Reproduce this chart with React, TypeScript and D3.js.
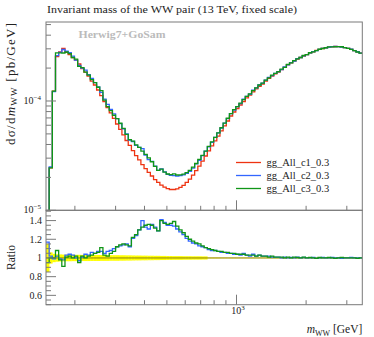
import React from 'react'
import * as d3 from 'd3'

const TITLE = 'Invariant mass of the WW pair (13 TeV, fixed scale)'
const GENERATOR = 'Herwig7+GoSam'
const SERIES = ['gg_All_c1_0.3', 'gg_All_c2_0.3', 'gg_All_c3_0.3']
const COLORS = ['#ee3311', '#3366ff', '#109618']

// binning of the m_WW histogram (log bins)
const M_LO = 150
const M_HI = 3500
const N_BINS = 100

// reference curve (c1), dsigma/dm in pb/GeV
const RED = [
  7e-6, 2.44e-5, 1.23e-4, 2.55e-4, 2.81e-4, 3.02e-4, 2.78e-4, 2.66e-4, 2.5e-4, 2.37e-4,
  2.18e-4, 1.98e-4, 1.84e-4, 1.69e-4, 1.52e-4, 1.4e-4, 1.26e-4, 1.12e-4, 9.89e-5, 8.72e-5,
  7.77e-5, 6.92e-5, 6.16e-5, 5.49e-5, 4.89e-5, 4.35e-5, 3.92e-5, 3.52e-5, 3.17e-5, 2.89e-5,
  2.62e-5, 2.41e-5, 2.22e-5, 2.06e-5, 1.91e-5, 1.8e-5, 1.7e-5, 1.63e-5, 1.58e-5, 1.55e-5,
  1.55e-5, 1.57e-5, 1.62e-5, 1.69e-5, 1.8e-5, 1.93e-5, 2.1e-5, 2.31e-5, 2.54e-5, 2.82e-5,
  3.14e-5, 3.49e-5, 3.88e-5, 4.31e-5, 4.78e-5, 5.32e-5, 5.91e-5, 6.56e-5, 7.29e-5, 7.93e-5,
  8.54e-5, 9.19e-5, 9.89e-5, 1.07e-4, 1.13e-4, 1.21e-4, 1.29e-4, 1.36e-4, 1.43e-4, 1.52e-4,
  1.61e-4, 1.69e-4, 1.77e-4, 1.84e-4, 1.94e-4, 2.03e-4, 2.14e-4, 2.23e-4, 2.32e-4, 2.42e-4,
  2.5e-4, 2.58e-4, 2.66e-4, 2.75e-4, 2.81e-4, 2.9e-4, 2.96e-4, 3.02e-4, 3.07e-4, 3.11e-4,
  3.13e-4, 3.15e-4, 3.14e-4, 3.12e-4, 3.08e-4, 3.03e-4, 2.96e-4, 2.89e-4, 2.82e-4, 2.74e-4,
]

// ratios to the reference
const BLUE_RATIO = [
  1.17, 1.02, 0.99, 1.02, 0.99, 0.98, 1.03, 1.04, 1.03, 1.0,
  0.97, 1.01, 1.04, 1.03, 1.06, 1.05, 1.07, 1.07, 1.05, 1.07,
  1.08, 1.1, 1.12, 1.13, 1.14, 1.15, 1.12, 1.21, 1.24, 1.3,
  1.4, 1.33, 1.31, 1.36, 1.33, 1.29, 1.41, 1.38, 1.35, 1.35,
  1.34, 1.31, 1.28, 1.25, 1.21, 1.18, 1.16, 1.15, 1.13, 1.12,
  1.11, 1.09, 1.08, 1.08, 1.07, 1.06, 1.06, 1.05, 1.05, 1.04,
  1.04, 1.03, 1.05, 1.03, 1.02, 1.04, 1.02, 1.03, 1.02, 1.02,
  1.02, 1.01, 1.01, 1.01, 1.0, 1.01, 1.0, 1.005, 1.0, 1.01,
  1.0, 1.005, 1.0, 1.0, 1.005, 0.995, 1.0, 1.005, 1.0, 1.0,
  1.005, 1.0, 1.0, 0.995, 1.0, 1.0, 1.005, 1.0, 1.0, 1.0,
]

const GREEN_RATIO = [
  0.95, 1.0, 1.0, 1.08, 0.98, 0.91, 1.01, 1.02, 1.0, 1.02,
  0.95, 1.02, 1.0, 1.02, 1.03, 1.05, 1.06, 1.11, 1.03, 1.02,
  1.05, 1.07, 1.12, 1.14, 1.15, 1.14, 1.13, 1.22, 1.25, 1.3,
  1.33, 1.35, 1.36, 1.35, 1.32, 1.29, 1.4, 1.37, 1.36, 1.37,
  1.39, 1.34, 1.3, 1.27, 1.23, 1.2, 1.18, 1.16, 1.15, 1.13,
  1.11, 1.1, 1.09, 1.08, 1.07, 1.07, 1.06, 1.06, 1.05, 1.05,
  1.04, 1.04, 1.04, 1.03, 1.03, 1.03, 1.02, 1.03, 1.02, 1.02,
  1.01, 1.02, 1.01, 1.01, 1.01, 1.0, 1.01, 1.0, 1.01, 1.005,
  1.0, 1.01, 1.0, 1.005, 1.0, 0.995, 1.005, 1.0, 1.0, 1.005,
  1.0, 0.995, 1.0, 1.005, 1.0, 1.0, 1.0, 1.0, 0.995, 1.0,
]

// relative stat. uncertainty of the reference (yellow band)
const RED_ERR = [
  0.15, 0.06, 0.045, 0.04, 0.038, 0.036, 0.035, 0.035, 0.034, 0.034,
  0.034, 0.033, 0.033, 0.033, 0.032, 0.032, 0.032, 0.031, 0.031, 0.031,
  0.03, 0.03, 0.03, 0.029, 0.029, 0.028, 0.028, 0.027, 0.026, 0.026,
  0.025, 0.025, 0.024, 0.024, 0.023, 0.023, 0.022, 0.022, 0.021, 0.021,
  0.02, 0.02, 0.02, 0.019, 0.019, 0.019, 0.018, 0.018, 0.018, 0.017,
  0.017, 0.004, 0.004, 0.004, 0.004, 0.003, 0.003, 0.003, 0.003, 0.003,
  0.003, 0.003, 0.003, 0.003, 0.003, 0.003, 0.003, 0.003, 0.003, 0.003,
  0.003, 0.003, 0.003, 0.003, 0.003, 0.003, 0.003, 0.003, 0.003, 0.003,
  0.003, 0.003, 0.003, 0.003, 0.003, 0.003, 0.003, 0.003, 0.003, 0.003,
  0.003, 0.003, 0.003, 0.003, 0.003, 0.003, 0.003, 0.003, 0.003, 0.003,
]

const W = 374
const H = 337
const L = 46
const R = 362.3
const T = 22
const MID = 210.3
const B = 304.7
const FONT = '"Liberation Serif", "DejaVu Serif", serif'
const AXIS = '#7a7a7a'

const App = () => {
  const x = d3.scaleLog().domain([M_LO, M_HI]).range([L, R])
  const y = d3.scaleLog().domain([1e-5, 5.28e-4]).range([MID, T])
  const yr = d3.scaleLinear().domain([0.5, 1.51]).range([B, MID])

  const edges = d3.range(N_BINS + 1).map((i) => M_LO * Math.pow(M_HI / M_LO, i / N_BINS))

  const stepPath = (vals: number[], sy: (v: number) => number) => {
    let d = ''
    vals.forEach((v, i) => {
      const yy = sy(v)
      d += (i === 0 ? 'M' : 'L') + x(edges[i]) + ',' + yy + 'L' + x(edges[i + 1]) + ',' + yy
    })
    return d
  }

  const blue = RED.map((v, i) => v * BLUE_RATIO[i])
  const green = RED.map((v, i) => v * GREEN_RATIO[i])
  const mainSeries = [RED, blue, green]
  const ratioSeries = [BLUE_RATIO, GREEN_RATIO]

  const xTicks = x.ticks()
  const yTicks = y.ticks()
  const rTicks = yr.ticks(20)
  const isPow10 = (v: number) => Math.abs(Math.log10(v) - Math.round(Math.log10(v))) < 1e-6
  const isMajorR = (t: number) => Math.abs(t * 5 - Math.round(t * 5)) < 1e-6

  return (
    <svg width={W} height={H} style={{ position: 'absolute', left: 0, top: 0 }} fontFamily={FONT}>
      <defs>
        <clipPath id="clipMain">
          <rect x={L} y={T} width={R - L} height={MID - T} />
        </clipPath>
        <clipPath id="clipRatio">
          <rect x={L} y={MID} width={R - L} height={B - MID} />
        </clipPath>
      </defs>
      <rect width={W} height={H} fill="#fff" />

      <text x={47} y={13} fontSize={10.5} fill="#222" textLength={250} lengthAdjust="spacingAndGlyphs">
        {TITLE}
      </text>

      {/* main panel */}
      <text x={78.5} y={37.5} fontSize={10} fontWeight="bold" fill="#bbbbbb" textLength={87} lengthAdjust="spacingAndGlyphs">
        {GENERATOR}
      </text>
      <g clipPath="url(#clipMain)">
        {mainSeries.map((s, k) => (
          <path key={k} d={stepPath(s, y)} fill="none" stroke={COLORS[k]} strokeWidth={1.3} />
        ))}
      </g>

      {/* ratio panel */}
      <g clipPath="url(#clipRatio)">
        {RED_ERR.map((e, i) => (
          <rect
            key={i}
            x={x(edges[i])}
            width={x(edges[i + 1]) - x(edges[i]) + 0.3}
            y={yr(1 + e)}
            height={yr(1 - e) - yr(1 + e)}
            fill="#ffff00"
          />
        ))}
        <line x1={L} x2={R} y1={yr(1)} y2={yr(1)} stroke="#8a7d10" strokeWidth={1} />
        {ratioSeries.map((s, k) => (
          <path key={k} d={stepPath(s, yr)} fill="none" stroke={COLORS[k + 1]} strokeWidth={1.3} />
        ))}
      </g>

      {/* axes ticks */}
      <g stroke={AXIS} strokeWidth={1}>
        {yTicks.map((t, i) => {
          const major = isPow10(t)
          return <line key={i} x1={L} x2={L + (major ? 10 : 5)} y1={y(t)} y2={y(t)} />
        })}
        {rTicks.map((t, i) => (
          <line key={i} x1={L} x2={L + (isMajorR(t) ? 10 : 5)} y1={yr(t)} y2={yr(t)} />
        ))}
        {xTicks.map((t, i) => {
          const len = isPow10(t) ? 10 : 4.5
          return (
            <g key={i}>
              <line x1={x(t)} x2={x(t)} y1={MID} y2={MID - len} />
              <line x1={x(t)} x2={x(t)} y1={B} y2={B - len} />
            </g>
          )
        })}
      </g>
      <rect x={L} y={T} width={R - L} height={MID - T} fill="none" stroke={AXIS} strokeWidth={1} />
      <rect x={L} y={MID} width={R - L} height={B - MID} fill="none" stroke={AXIS} strokeWidth={1} />

      {/* tick labels */}
      <g fontSize={10} fill="#222" textAnchor="end">
        {yTicks.filter(isPow10).map((t, i) => (
          <text key={i} x={41} y={y(t) + 3}>
            10
            <tspan fontSize={7} dy={-4}>
              {'\u2212' + Math.round(-Math.log10(t))}
            </tspan>
          </text>
        ))}
        {rTicks.filter(isMajorR).map((t, i) => (
          <text key={i} x={42} y={yr(t) + 3.5}>
            {String(+t.toFixed(1))}
          </text>
        ))}
      </g>
      <g fontSize={10} fill="#222" textAnchor="middle">
        {xTicks.filter(isPow10).map((t, i) => (
          <text key={i} x={x(t) + 1.5} y={313.5}>
            10
            <tspan fontSize={7} dy={-4}>
              {Math.round(Math.log10(t))}
            </tspan>
          </text>
        ))}
      </g>

      {/* axis titles */}
      <text
        transform={`translate(14.5, ${T + 1}) rotate(-90)`}
        textAnchor="end"
        fontSize={13}
        fill="#222"
        textLength={122}
        lengthAdjust="spacing"
      >
        dσ/d<tspan fontStyle="italic">m</tspan>
        <tspan fontSize={9} dy={2.5}>WW</tspan>
        <tspan dy={-2.5}> [pb/GeV]</tspan>
      </text>
      <text transform={`translate(14.5, ${(MID + B) / 2}) rotate(-90)`} textAnchor="middle" fontSize={11.5} fill="#222">
        Ratio
      </text>
      <text x={R} y={333} textAnchor="end" fontSize={11.5} fill="#222">
        <tspan fontStyle="italic">m</tspan>
        <tspan fontSize={8} dy={2.5}>WW</tspan>
        <tspan dy={-2.5}> [GeV]</tspan>
      </text>

      {/* legend */}
      {SERIES.map((s, k) => (
        <g key={s}>
          <line x1={236} x2={261} y1={162.5 + k * 13} y2={162.5 + k * 13} stroke={COLORS[k]} strokeWidth={1.3} />
          <text x={266.5} y={166 + k * 13} fontSize={10.5} fill="#222">
            {s}
          </text>
        </g>
      ))}
    </svg>
  )
}

export default App
